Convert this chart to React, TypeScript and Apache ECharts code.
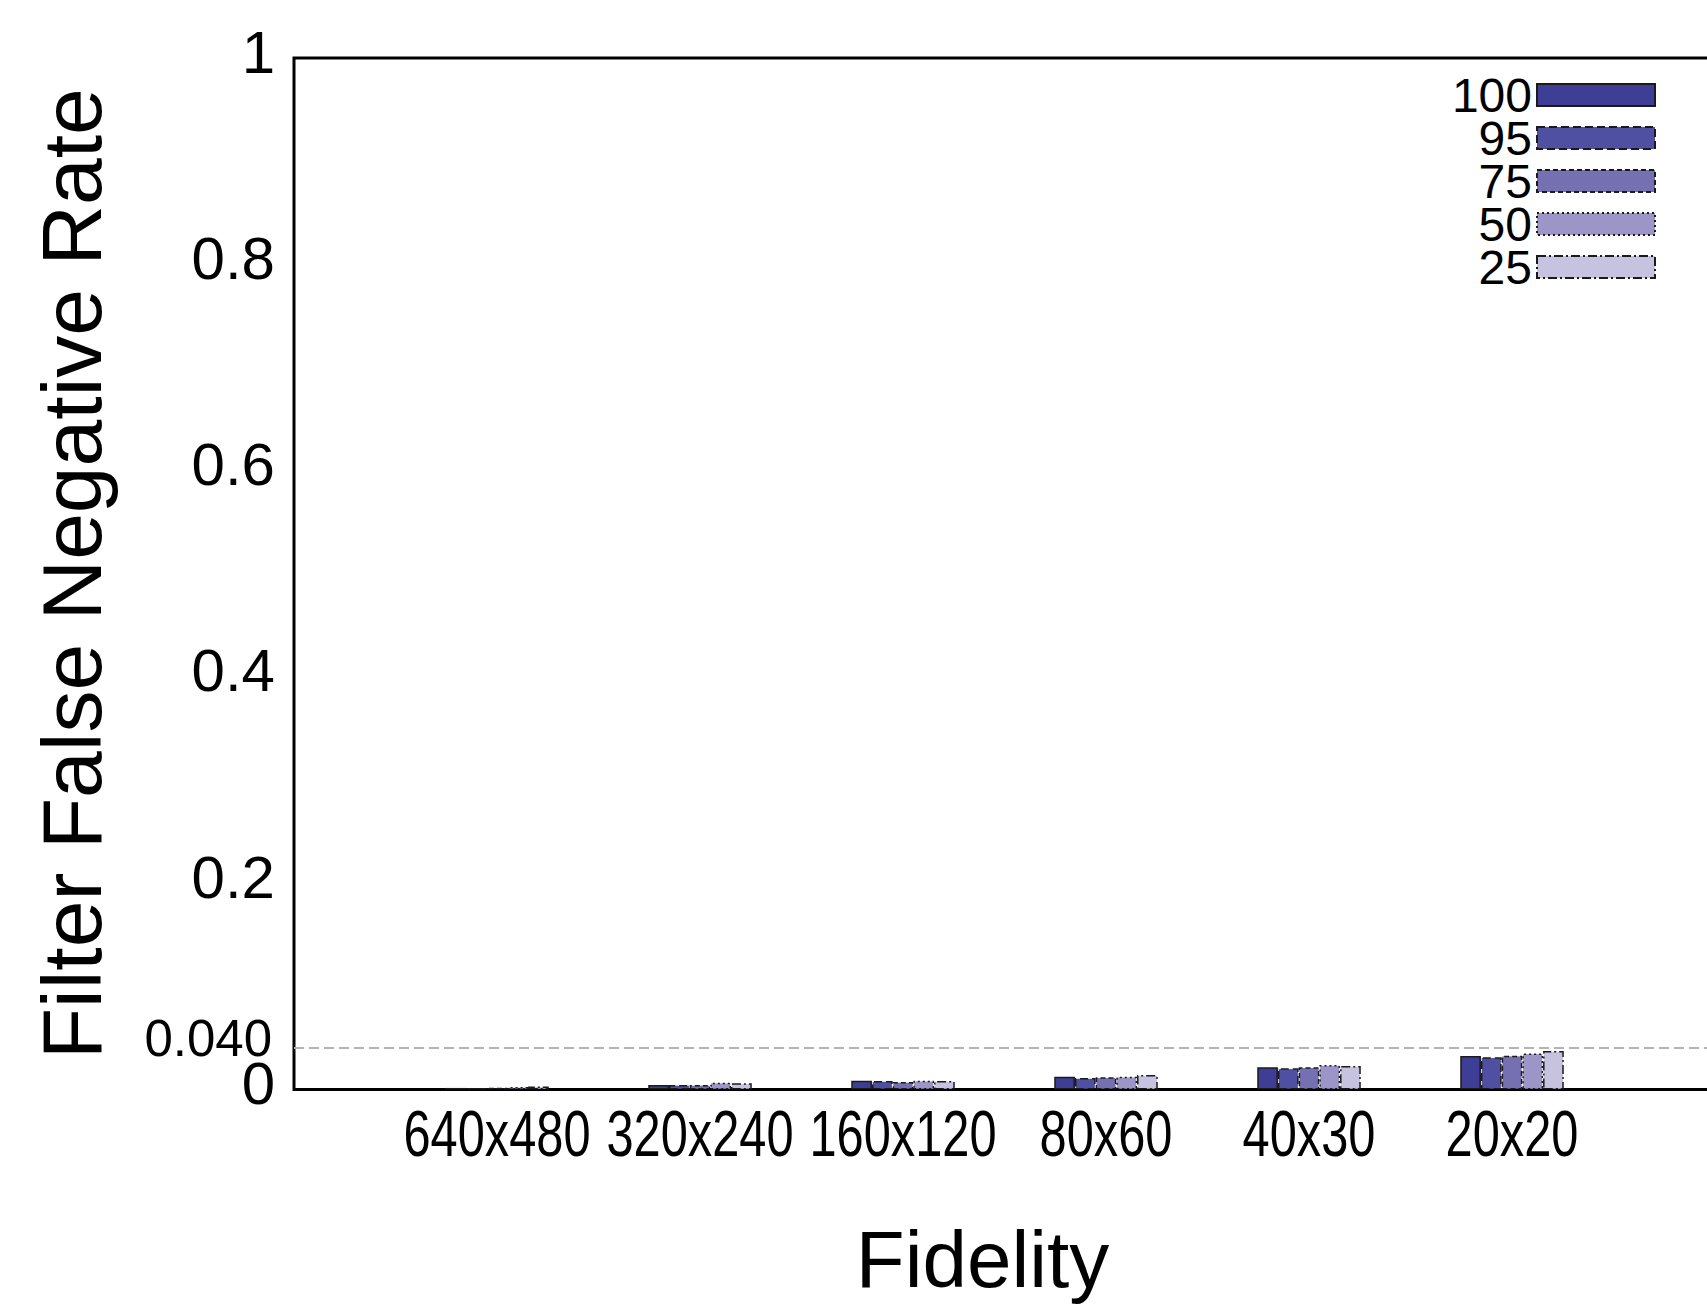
import React, { useEffect, useRef } from "react";
import * as echarts from "echarts";

const categories = ["", "640x480", "320x240", "160x120", "80x60", "40x30", "20x20", ""];
const seriesNames = ["100", "95", "75", "50", "25"];
const v100 = [0.0015, 0.0044, 0.0085, 0.0124, 0.0215, 0.0325];
const v95 = [0.0015, 0.0044, 0.0082, 0.0111, 0.0205, 0.0312];
const v75 = [0.0016, 0.0044, 0.0073, 0.0118, 0.0215, 0.0328];
const v50 = [0.0025, 0.0066, 0.0085, 0.0124, 0.0237, 0.035];
const v25 = [0.003, 0.006, 0.0082, 0.014, 0.0228, 0.0373];
const refLineValue = 0.0373;
const refLineLabel = "0.040";
const yTicks = [0, 0.2, 0.4, 0.6, 0.8, 1];

const colors = ["#3e3e96", "#5050a2", "#7570b2", "#9c96c8", "#c6c3e1"];
const borderTypes: any[] = ["solid", [8, 4], [5, 3], [2, 3], [9, 3, 2, 3]];

export default function App() {
  const ref = useRef<HTMLDivElement>(null);
  useEffect(() => {
    document.body.style.margin = "0";
    const chart = echarts.init(ref.current!, undefined, { renderer: "svg" });
    const allValues = [v100, v95, v75, v50, v25];
    const series: any[] = allValues.map((vals, i) => ({
      name: seriesNames[i],
      type: "bar",
      data: [null, ...vals, null],
      barGap: "0%",
      barCategoryGap: "49%",
      itemStyle: {
        color: colors[i],
        borderColor: "#1a1a1a",
        borderWidth: 1.5,
        borderType: borderTypes[i],
      },
      ...(i === 0
        ? {
            markLine: {
              silent: true,
              symbol: "none",
              lineStyle: { color: "#b3b3b3", type: [10, 5], width: 2 },
              label: {
                show: true,
                position: "start",
                formatter: refLineLabel,
                fontFamily: "Liberation Sans",
                fontSize: 51,
                color: "#000",
                distance: 22,
                verticalAlign: "bottom",
                lineHeight: 20,
              },
              data: [{ yAxis: refLineValue }],
            },
          }
        : {}),
    }));
    chart.setOption({
      animation: false,
      backgroundColor: "#fff",
      grid: {
        left: 294,
        top: 58,
        width: 1421,
        height: 1031.5,
        show: true,
        borderColor: "#000",
        borderWidth: 3,
        outerBoundsMode: "none",
        containLabel: false,
      },
      legend: {
        orient: "vertical",
        align: "right",
        right: 51,
        top: 71,
        padding: 0,
        itemGap: -5,
        itemWidth: 118,
        itemHeight: 22,
        icon: "rect",
        data: seriesNames.map((n, i) => ({
          name: n,
          itemStyle: {
            color: colors[i],
            borderColor: "#1a1a1a",
            borderWidth: 2,
            borderType: borderTypes[i],
          },
        })),
        textStyle: {
          fontFamily: "Liberation Sans",
          fontSize: 48,
          color: "#000",
          lineHeight: 43.5,
        },
      },
      xAxis: {
        type: "category",
        data: categories,
        boundaryGap: false,
        axisLine: { show: false },
        axisTick: { show: false },
        axisLabel: { show: false },
        name: "Fidelity",
        nameLocation: "middle",
        nameGap: 130,
        nameTextStyle: {
          fontFamily: "Liberation Sans",
          fontSize: 80,
          color: "#000",
          padding: [0, 44, 0, 0],
        },
      },
      yAxis: {
        type: "value",
        min: 0,
        max: 1,
        interval: 0.2,
        axisLine: { show: false },
        axisTick: { show: false },
        splitLine: { show: false },
        axisLabel: {
          margin: 19,
          fontFamily: "Liberation Sans",
          fontSize: 60,
          color: "#000",
          verticalAlign: "bottom",
          lineHeight: 12,
          formatter: (v: number) => {
            const t = yTicks.find((x) => Math.abs(x - v) < 1e-9);
            return t === undefined ? "" : String(t);
          },
        },
        name: "Filter False Negative Rate",
        nameLocation: "middle",
        nameGap: 180,
        nameTextStyle: {
          fontFamily: "Liberation Sans",
          fontSize: 84,
          color: "#000",
        },
      },
      series,
    });
    const baseY = chart.convertToPixel({ yAxisIndex: 0 }, 0) as number;
    const labels: any[] = [];
    categories.forEach((c) => {
      if (!c) return;
      const px = chart.convertToPixel({ xAxisIndex: 0 }, c) as number;
      labels.push({
        type: "text",
        x: px,
        y: baseY + 44,
        scaleX: 0.75,
        style: {
          text: c,
          fontFamily: "Liberation Sans",
          fontSize: 65,
          fill: "#000",
          align: "center",
          verticalAlign: "middle",
        },
      });
    });
    chart.setOption({ graphic: labels });
    return () => chart.dispose();
  }, []);
  return <div ref={ref} style={{ width: 1707, height: 1308 }} />;
}
